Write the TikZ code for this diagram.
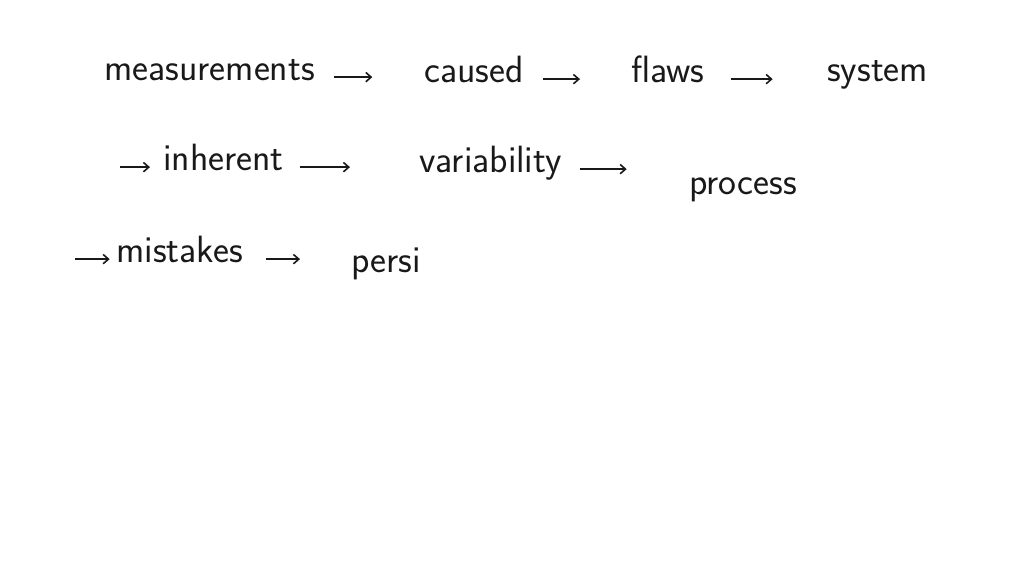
\documentclass[tikz,border=0pt]{standalone}
\usetikzlibrary{arrows.meta}
\definecolor{ink}{RGB}{25,25,25}
\begin{document}
\begin{tikzpicture}[x=0.75pt,y=0.75pt,yscale=-1,xscale=1,
  word/.style={anchor=base west,inner sep=0.75pt,text=ink,font=\sffamily\fontsize{28.5}{32}\selectfont},
  flow/.style={draw=ink,line width=1.2pt,-{Straight Barb[length=4pt,width=7pt]}}]
%page size, white sheet
\path[use as bounding box,fill=white] (0,0) rectangle (1024,576);

% first line
\node[word] (measurements) at (103,80) {measurements};
\node[word] (caused) at (423,82) {caused};
\node[word] (flaws) at (630,82) {flaws};
\node[word] (system) at (826,81) {system};
% second line
\coordinate (start2) at (120,160);
\node[word] (inherent) at (162,170) {inherent};
\node[word] (variability) at (418,172) {variability};
\node[word] (process) at (688,194) {process};
% third line
\coordinate (start3) at (75,250);
\node[word] (mistakes) at (115,262) {mistakes};
\node[word] (persi) at (350,272) {persi};

% arrows, kept level with the word they leave
\draw[flow,shorten <=13.5pt,shorten >=38pt] (measurements.mid east) -- (measurements.mid east -| caused.west);
\draw[flow,shorten <=13.5pt,shorten >=37.5pt] (caused.mid east) -- (caused.mid east -| flaws.west);
\draw[flow,shorten <=19pt,shorten >=40pt] (flaws.mid east) -- (flaws.mid east -| system.west);
\draw[flow,shorten >=9pt] (start2 |- inherent.mid west) -- (inherent.mid west);
\draw[flow,shorten <=11pt,shorten >=51pt] (inherent.mid east) -- (inherent.mid east -| variability.west);
\draw[flow,shorten <=13pt,shorten >=46pt] (variability.mid east) -- (variability.mid east -| process.west);
\draw[flow,shorten >=4pt] (start3 |- mistakes.mid west) -- (mistakes.mid west);
\draw[flow,shorten <=16.5pt,shorten >=37.5pt] (mistakes.mid east) -- (mistakes.mid east -| persi.west);
\end{tikzpicture}
\end{document}
